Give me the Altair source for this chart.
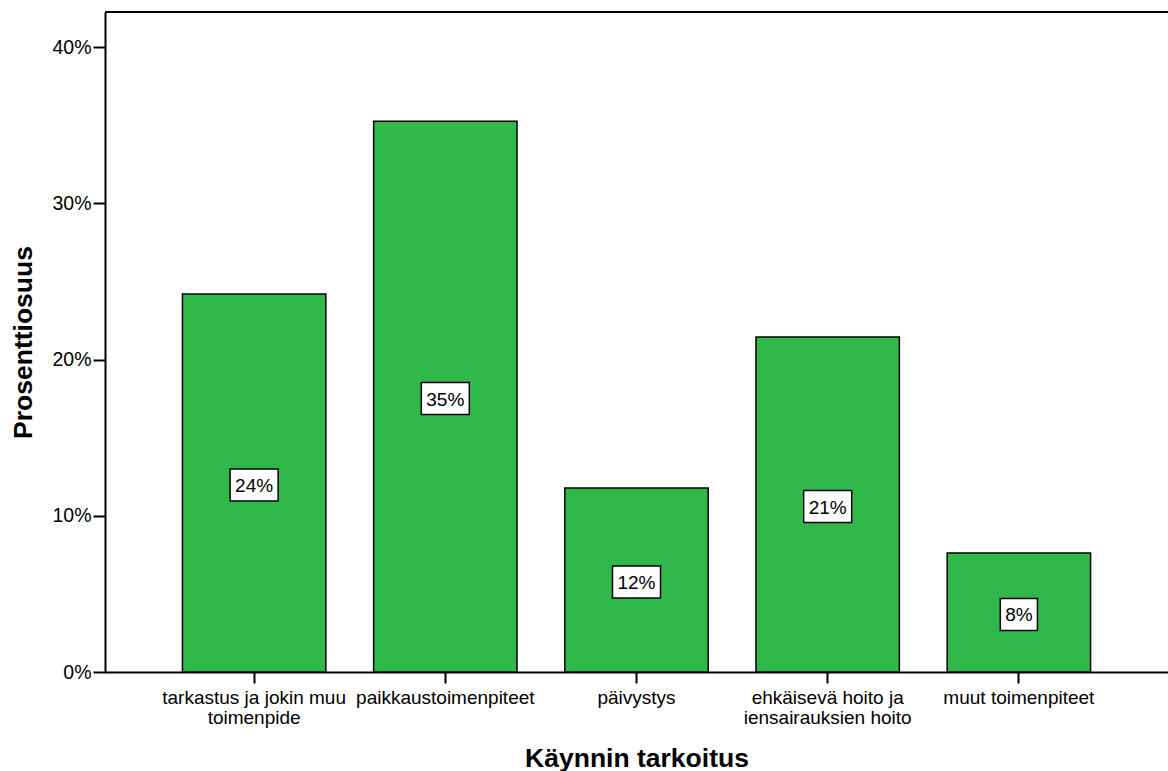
import altair as alt
import pandas as pd

categories = [
    "tarkastus ja jokin muu\ntoimenpide",
    "paikkaustoimenpiteet",
    "päivystys",
    "ehkäisevä hoito ja\niensairauksien hoito",
    "muut toimenpiteet",
]
percents = [24.19, 35.25, 11.78, 21.44, 7.62]
labels = ["24%", "35%", "12%", "21%", "8%"]
y_ticks = [0, 10, 20, 30, 40]

df = pd.DataFrame({"cat": categories, "pct": percents, "label": labels})

FONT = "Liberation Sans"
GREEN = "#30b84b"

x_enc = alt.X(
    "cat:N",
    sort=categories,
    scale=alt.Scale(paddingInner=0.25, paddingOuter=0.405),
    axis=alt.Axis(
        title="Käynnin tarkoitus",
        labelAngle=0,
        labelExpr="split(datum.label, '\\n')",
        labelFontSize=19,
        labelLineHeight=20,
        labelPadding=5,
        labelLimit=0,
        labelOverlap=False,
        labelColor="black",
        tickSize=11,
        tickWidth=2,
        tickColor="black",
        domainWidth=2,
        domainColor="black",
        titleFontSize=26.5,
        titleFont=FONT,
        titleFontWeight="bold",
        titleColor="black",
        titleX=531.5,
        titleY=94,
        titleBaseline="alphabetic",
        titleAnchor="middle",
    ),
)

y_scale = alt.Scale(domain=[0, 42.24], nice=False, zero=True)

bars = alt.Chart(df).mark_bar(
    color=GREEN, stroke="black", strokeWidth=1.5
).encode(
    x=x_enc,
    y=alt.Y(
        "pct:Q",
        scale=y_scale,
        axis=alt.Axis(
            title="Prosenttiosuus",
            values=y_ticks,
            labelExpr="datum.value + '%'",
            labelFontSize=19.5,
            labelPadding=2,
            labelColor="black",
            grid=False,
            tickSize=12,
            tickWidth=2,
            tickColor="black",
            domainWidth=2,
            domainColor="black",
            titleFontSize=26.5,
            titleFont=FONT,
            titleFontWeight="bold",
            titleColor="black",
            titleX=-74,
            titleY=330,
            titleBaseline="alphabetic",
            titleAnchor="middle",
        ),
    ),
)

wide_box = "M-1.5,-1L1.5,-1L1.5,1L-1.5,1Z"
narrow_box = "M-1.16,-1L1.16,-1L1.16,1L-1.16,1Z"

boxes = alt.Chart(df).transform_calculate(
    mid="datum.pct / 2", w="'' + length(datum.label)"
).mark_point(
    filled=True, fill="white", stroke="black", strokeWidth=1.5, opacity=1, size=1024, yOffset=2
).encode(
    x=alt.X("cat:N", sort=categories),
    y=alt.Y("mid:Q", scale=y_scale),
    shape=alt.Shape(
        "w:N",
        scale=alt.Scale(domain=["3", "2"], range=[wide_box, narrow_box]),
        legend=None,
    ),
)

texts = alt.Chart(df).transform_calculate(
    mid="datum.pct / 2"
).mark_text(
    font=FONT, fontSize=19, color="black", baseline="middle", align="center", yOffset=3
).encode(
    x=alt.X("cat:N", sort=categories),
    y=alt.Y("mid:Q", scale=y_scale),
    text="label:N",
)

top_line = alt.Chart(df).mark_rule(color="black", strokeWidth=2).encode(
    x=alt.value(0), x2=alt.value(1063), y=alt.value(0)
)

chart = alt.layer(bars, boxes, texts, top_line).properties(
    width=1063,
    height=660,
    autosize=alt.AutoSizeParams(type="none"),
    padding={"left": 105, "top": 12, "right": 0, "bottom": 99},
).configure_view(stroke=None).configure(
    font=FONT, background="white"
).configure_axis(labelFont=FONT, titleFont=FONT)

chart.save("out.html", embed_options={"renderer": "svg", "actions": False})
